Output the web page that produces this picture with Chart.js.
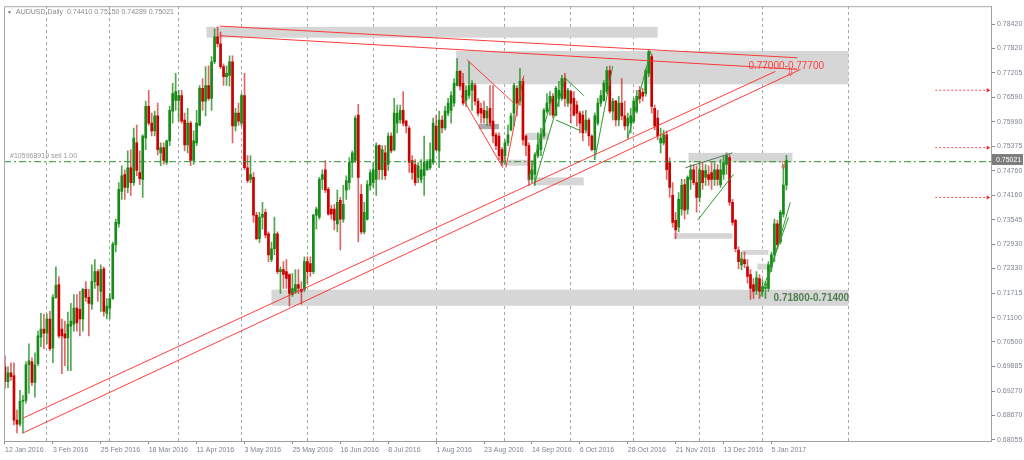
<!DOCTYPE html>
<html>
<head>
<meta charset="utf-8">
<title>AUDUSD, Daily</title>
<script src="https://cdn.jsdelivr.net/npm/chart.js@4.4.1/dist/chart.umd.min.js"></script>
<style>
    html, body { margin: 0; padding: 0; background: #fff; }
    #wrap { width: 1024px; height: 460px; }
</style>
</head>
<body>
<div id="wrap"><canvas id="chart" width="1024" height="460"></canvas></div>
<script>
// AUDUSD daily candles, 12 Jan 2016 → 12 Jan 2017
var opens = [
    0.6988,0.6951,0.6973,0.6966,0.6855,0.6845,0.6902,0.6904,0.6993,0.7000,
    0.6949,0.6996,0.7062,0.7082,0.7072,0.7107,0.7035,0.7161,0.7193,0.7082,
    0.7070,0.7060,0.7089,0.7094,0.7134,0.7131,0.7107,0.7181,0.7161,0.7144,
    0.7200,0.7225,0.7176,0.7232,0.7121,0.7134,0.7158,0.7292,0.7344,0.7425,
    0.7467,0.7435,0.7484,0.7447,0.7546,0.7472,0.7455,0.7558,0.7637,0.7595,
    0.7576,0.7613,0.7521,0.7534,0.7497,0.7551,0.7625,0.7652,0.7652,0.7664,
    0.7603,0.7541,0.7595,0.7502,0.7546,0.7590,0.7682,0.7650,0.7689,0.7657,
    0.7748,0.7810,0.7793,0.7736,0.7711,0.7714,0.7748,0.7588,0.7620,0.7595,
    0.7664,0.7484,0.7455,0.7460,0.7366,0.7307,0.7361,0.7373,0.7319,0.7255,
    0.7282,0.7319,0.7225,0.7230,0.7225,0.7218,0.7168,0.7176,0.7193,0.7181,
    0.7181,0.7250,0.7245,0.7225,0.7366,0.7361,0.7455,0.7479,0.7430,0.7381,
    0.7381,0.7344,0.7403,0.7356,0.7428,0.7447,0.7497,0.7502,0.7615,0.7418,
    0.7324,0.7356,0.7440,0.7447,0.7455,0.7539,0.7479,0.7521,0.7492,0.7563,
    0.7529,0.7595,0.7603,0.7627,0.7600,0.7583,0.7502,0.7492,0.7460,0.7455,
    0.7464,0.7479,0.7484,0.7497,0.7588,0.7526,0.7603,0.7583,0.7620,0.7627,
    0.7645,0.7689,0.7724,0.7694,0.7652,0.7664,0.7677,0.7689,0.7650,0.7632,
    0.7627,0.7608,0.7632,0.7600,0.7566,0.7563,0.7529,0.7514,0.7546,0.7578,
    0.7620,0.7682,0.7650,0.7699,0.7563,0.7539,0.7455,0.7467,0.7514,0.7529,
    0.7563,0.7625,0.7645,0.7662,0.7615,0.7657,0.7657,0.7706,0.7645,0.7674,
    0.7657,0.7640,0.7620,0.7615,0.7578,0.7603,0.7563,0.7529,0.7595,0.7645,
    0.7652,0.7674,0.7726,0.7625,0.7650,0.7603,0.7645,0.7613,0.7588,0.7595,
    0.7600,0.7625,0.7677,0.7672,0.7669,0.7719,0.7761,0.7632,0.7608,0.7546,
    0.7546,0.7566,0.7497,0.7415,0.7353,0.7336,0.7381,0.7442,0.7381,0.7455,
    0.7479,0.7447,0.7410,0.7477,0.7460,0.7467,0.7472,0.7455,0.7479,0.7442,
    0.7467,0.7492,0.7509,0.7398,0.7353,0.7279,0.7242,0.7255,0.7237,0.7218,
    0.7193,0.7178,0.7208,0.7176,0.7183,0.7183,0.7237,0.7267,0.7344,0.7299,
    0.7368,0.74410
];
var highs = [
    0.7015,0.6988,0.6998,0.6998,0.6880,0.6929,0.6917,0.7000,0.7045,0.7010,
    0.7023,0.7077,0.7121,0.7119,0.7119,0.7126,0.7168,0.7237,0.7213,0.7107,
    0.7102,0.7124,0.7146,0.7168,0.7168,0.7176,0.7183,0.7200,0.7181,0.7242,
    0.7255,0.7230,0.7242,0.7237,0.7158,0.7171,0.7299,0.7356,0.7447,0.7489,
    0.7479,0.7526,0.7529,0.7583,0.7590,0.7526,0.7566,0.7650,0.7677,0.7620,
    0.7625,0.7645,0.7546,0.7546,0.7553,0.7637,0.7694,0.7719,0.7677,0.7677,
    0.7620,0.7632,0.7600,0.7576,0.7627,0.7689,0.7706,0.7736,0.7738,0.7761,
    0.7830,0.7835,0.7822,0.7743,0.7738,0.7763,0.7763,0.7632,0.7645,0.7669,
    0.7719,0.7514,0.7514,0.7472,0.7373,0.7373,0.7398,0.7381,0.7324,0.7299,
    0.7361,0.7324,0.7237,0.7250,0.7255,0.7220,0.7220,0.7230,0.7230,0.7200,
    0.7262,0.7262,0.7262,0.7368,0.7386,0.7460,0.7479,0.7502,0.7435,0.7390,
    0.7393,0.7428,0.7410,0.7440,0.7464,0.7509,0.7526,0.7613,0.7642,0.7442,
    0.7398,0.7452,0.7479,0.7497,0.7546,0.7541,0.7539,0.7539,0.7571,0.7571,
    0.7657,0.7640,0.7640,0.7674,0.7603,0.7588,0.7514,0.7504,0.7497,0.7504,
    0.7563,0.7504,0.7546,0.7608,0.7613,0.7625,0.7613,0.7637,0.7657,0.7674,
    0.7706,0.7756,0.7726,0.7719,0.7689,0.7748,0.7701,0.7694,0.7657,0.7645,
    0.7650,0.7637,0.7689,0.7689,0.7571,0.7571,0.7534,0.7553,0.7590,0.7620,
    0.7694,0.7689,0.7731,0.7706,0.7566,0.7546,0.7502,0.7521,0.7571,0.7583,
    0.7632,0.7669,0.7674,0.7669,0.7687,0.7699,0.7714,0.7719,0.7682,0.7677,
    0.7674,0.7650,0.7625,0.7625,0.7627,0.7608,0.7566,0.7620,0.7657,0.7677,
    0.7701,0.7736,0.7738,0.7657,0.7652,0.7662,0.7706,0.7650,0.7620,0.7632,
    0.7657,0.7677,0.7687,0.7682,0.7731,0.7778,0.7768,0.7640,0.7627,0.7583,
    0.7578,0.7576,0.7509,0.7447,0.7373,0.7422,0.7455,0.7455,0.7464,0.7492,
    0.7492,0.7489,0.7497,0.7497,0.7492,0.7489,0.7497,0.7497,0.7492,0.7504,
    0.7514,0.7521,0.7516,0.7405,0.7356,0.7287,0.7274,0.7274,0.7255,0.7230,
    0.7208,0.7225,0.7218,0.7205,0.7200,0.7250,0.7274,0.7356,0.7353,0.7378,
    0.7492,0.75150
];
var lows = [
    0.6934,0.6936,0.6954,0.6843,0.6823,0.6840,0.6823,0.6897,0.6922,0.6941,
    0.6912,0.6991,0.7038,0.7033,0.7045,0.7028,0.6998,0.7158,0.7060,0.6971,
    0.6991,0.6978,0.6978,0.7077,0.7077,0.7065,0.7077,0.7151,0.7065,0.7131,
    0.7183,0.7151,0.7126,0.7114,0.7107,0.7107,0.7156,0.7274,0.7336,0.7405,
    0.7405,0.7422,0.7415,0.7440,0.7464,0.7442,0.7410,0.7529,0.7590,0.7563,
    0.7563,0.7516,0.7489,0.7492,0.7492,0.7539,0.7595,0.7627,0.7600,0.7595,
    0.7526,0.7521,0.7489,0.7492,0.7539,0.7588,0.7627,0.7613,0.7652,0.7627,
    0.7743,0.7785,0.7731,0.7689,0.7689,0.7687,0.7546,0.7576,0.7590,0.7588,
    0.7479,0.7447,0.7447,0.7348,0.7304,0.7297,0.7331,0.7309,0.7250,0.7250,
    0.7267,0.7220,0.7171,0.7183,0.7183,0.7139,0.7163,0.7171,0.7171,0.7144,
    0.7176,0.7196,0.7213,0.7220,0.7331,0.7356,0.7430,0.7422,0.7366,0.7356,
    0.7329,0.7324,0.7279,0.7348,0.7405,0.7430,0.7460,0.7497,0.7299,0.7319,
    0.7319,0.7353,0.7428,0.7435,0.7415,0.7455,0.7455,0.7455,0.7477,0.7521,
    0.7526,0.7571,0.7595,0.7588,0.7571,0.7472,0.7455,0.7440,0.7447,0.7447,
    0.7415,0.7477,0.7479,0.7492,0.7526,0.7484,0.7571,0.7578,0.7613,0.7595,
    0.7637,0.7687,0.7677,0.7640,0.7637,0.7657,0.7627,0.7640,0.7613,0.7595,
    0.7595,0.7590,0.7588,0.7546,0.7529,0.7504,0.7489,0.7492,0.7539,0.7576,
    0.7588,0.7613,0.7640,0.7541,0.7514,0.7440,0.7447,0.7440,0.7509,0.7514,
    0.7558,0.7620,0.7615,0.7608,0.7613,0.7637,0.7652,0.7637,0.7637,0.7595,
    0.7613,0.7588,0.7571,0.7551,0.7571,0.7539,0.7526,0.7504,0.7590,0.7637,
    0.7650,0.7669,0.7620,0.7603,0.7588,0.7588,0.7603,0.7578,0.7558,0.7571,
    0.7595,0.7620,0.7645,0.7650,0.7662,0.7711,0.7620,0.7578,0.7553,0.7521,
    0.7541,0.7455,0.7410,0.7336,0.7307,0.7324,0.7366,0.7356,0.7368,0.7430,
    0.7442,0.7373,0.7398,0.7430,0.7440,0.7440,0.7430,0.7440,0.7440,0.7435,
    0.7455,0.7467,0.7390,0.7341,0.7274,0.7232,0.7230,0.7235,0.7196,0.7156,
    0.7158,0.7168,0.7158,0.7163,0.7158,0.7176,0.7225,0.7250,0.7282,0.7294,
    0.7361,0.74289
];
var closes = [
    0.6951,0.6973,0.6963,0.6855,0.6845,0.6902,0.6904,0.6993,0.7003,0.6949,
    0.6993,0.7065,0.7082,0.7072,0.7107,0.7033,0.7161,0.7191,0.7065,0.7065,
    0.7060,0.7094,0.7102,0.7134,0.7097,0.7107,0.7181,0.7161,0.7146,0.7200,
    0.7225,0.7191,0.7230,0.7126,0.7139,0.7158,0.7294,0.7348,0.7430,0.7464,
    0.7435,0.7484,0.7447,0.7558,0.7477,0.7457,0.7563,0.7637,0.7595,0.7576,
    0.7613,0.7529,0.7534,0.7502,0.7551,0.7627,0.7669,0.7674,0.7664,0.7600,
    0.7541,0.7595,0.7502,0.7551,0.7595,0.7682,0.7650,0.7689,0.7657,0.7748,
    0.7810,0.7793,0.7736,0.7711,0.7719,0.7748,0.7588,0.7620,0.7600,0.7664,
    0.7484,0.7452,0.7467,0.7366,0.7307,0.7361,0.7368,0.7316,0.7267,0.7282,
    0.7319,0.7225,0.7230,0.7218,0.7208,0.7171,0.7183,0.7193,0.7183,0.7176,
    0.7250,0.7225,0.7225,0.7366,0.7381,0.7455,0.7467,0.7428,0.7368,0.7368,
    0.7353,0.7398,0.7356,0.7393,0.7452,0.7497,0.7521,0.7608,0.7460,0.7324,
    0.7373,0.7442,0.7472,0.7479,0.7539,0.7479,0.7529,0.7464,0.7563,0.7526,
    0.7620,0.7620,0.7627,0.7595,0.7588,0.7497,0.7472,0.7447,0.7489,0.7479,
    0.7497,0.7497,0.7504,0.7595,0.7529,0.7603,0.7583,0.7625,0.7645,0.7664,
    0.7694,0.7724,0.7687,0.7645,0.7677,0.7689,0.7694,0.7650,0.7620,0.7620,
    0.7608,0.7625,0.7595,0.7563,0.7539,0.7514,0.7497,0.7546,0.7566,0.7613,
    0.7689,0.7645,0.7699,0.7553,0.7539,0.7455,0.7479,0.7516,0.7541,0.7566,
    0.7627,0.7645,0.7662,0.7615,0.7682,0.7677,0.7706,0.7657,0.7677,0.7645,
    0.7615,0.7620,0.7595,0.7571,0.7603,0.7563,0.7529,0.7613,0.7645,0.7664,
    0.7694,0.7726,0.7625,0.7650,0.7603,0.7645,0.7613,0.7588,0.7608,0.7613,
    0.7650,0.7662,0.7657,0.7662,0.7726,0.7773,0.7637,0.7588,0.7563,0.7558,
    0.7566,0.7479,0.7435,0.7348,0.7329,0.7405,0.7440,0.7378,0.7460,0.7479,
    0.7447,0.7410,0.7479,0.7447,0.7477,0.7455,0.7455,0.7479,0.7455,0.7479,
    0.7497,0.7514,0.7398,0.7348,0.7282,0.7250,0.7257,0.7245,0.7213,0.7183,
    0.7176,0.7210,0.7176,0.7188,0.7186,0.7242,0.7267,0.7344,0.7292,0.7373,
    0.7441,0.75021
];

// Axis labels (x in bar numbers, bar 0 = 12 Jan 2016)
var dateTickBars = [0, 16, 32, 48, 64, 80, 96, 112, 128, 144, 160, 176, 192, 208, 224, 240, 256];
var dateLabels = ['12 Jan 2016', '3 Feb 2016', '25 Feb 2016', '18 Mar 2016', '11 Apr 2016', '3 May 2016',
    '25 May 2016', '16 Jun 2016', '8 Jul 2016', '1 Aug 2016', '23 Aug 2016', '14 Sep 2016',
    '6 Oct 2016', '28 Oct 2016', '21 Nov 2016', '13 Dec 2016', '5 Jan 2017'];
var monthStartBars = [14, 35, 58, 79, 101, 123, 144, 167, 189, 210, 232, 253, 281.7];
var priceTicks = [0.68055, 0.68670, 0.69270, 0.69885, 0.70500, 0.71100, 0.71715, 0.72330, 0.72930,
    0.73545, 0.74160, 0.74760, 0.75375, 0.75990, 0.76590, 0.77205, 0.77820, 0.78420];

// Analysis objects: zones [fromBar, toBar, low, high], lines [bar1, price1, bar2, price2]
var zones = [
    [67.3, 218, 0.7808, 0.7835], [150.7, 281.7, 0.7692, 0.7775], [89, 281.7, 0.7140, 0.7180],
    [228.3, 263, 0.7497, 0.7521], [165.7, 174.7, 0.7489, 0.7504], [174, 181.7, 0.7553, 0.7571],
    [176.7, 193.3, 0.7440, 0.7460], [223.3, 243, 0.7307, 0.7321], [246.3, 255, 0.7267, 0.7279],
    [251.3, 255, 0.7230, 0.7245]
];
var markZones = [[158.3, 165, 0.7580, 0.7593]];
var redLines = [
    [71.7, 0.7837, 264.7, 0.7758], [71.7, 0.7813, 264.7, 0.7729],
    [6, 0.6860, 257.3, 0.7724], [6, 0.6823, 265.7, 0.7729],
    [154.3, 0.7753, 170, 0.7645], [152.3, 0.7664, 166.3, 0.7484], [167.3, 0.7484, 173.3, 0.7714]
];
var greenLines = [
    [176.7, 0.7440, 187.3, 0.7711], [174.7, 0.7452, 183, 0.7664], [184, 0.7603, 192.3, 0.7576],
    [187.3, 0.7706, 193.3, 0.7664], [197.3, 0.7516, 203, 0.7738],
    [208, 0.7556, 215.7, 0.7775], [231.3, 0.7353, 243.3, 0.7467],
    [254, 0.7183, 262.3, 0.7398], [252.3, 0.7163, 261.7, 0.7361]
];
var patternLines = [[227.3, 0.7484, 243, 0.7521]];
var orderLevels = [0.7677, 0.7534, 0.7410];
var sellLevel = 0.7499;
var zoneLabels = [['0.77000-0.77700', 248.3, 0.7738], ['0.71800-0.71400', 256.7, 0.7158]];
var arrowMarks = [[262.3, 0.7719], [260, 0.7489]];

(function () {
    'use strict';

    var FONT = 'Liberation Sans';
    var AXIS_COLOR = '#7f8596';
    var BULL = '#178a17', BEAR = '#cc0000';
    var X_MIN = -1 / 3, X_MAX = 329.33;

    function isUp(i) { return closes[i] >= opens[i]; }

    // ── Candles: wick + body as floating bars ─────────────────
    var wicks = opens.map(function (o, i) { return { x: i, y: [lows[i], highs[i]] }; });
    var bodies = opens.map(function (o, i) { return { x: i, y: [o, closes[i]] }; });

    function segment(s, color, dash) {
        return {
            type: 'line',
            data: [{ x: s[0], y: s[1] }, { x: s[2], y: s[3] }],
            borderColor: color,
            borderWidth: 1,
            borderDash: dash || [],
            pointRadius: 0,
            tension: 0,
            fill: false,
            order: 1
        };
    }

    var datasets = [
        {
            type: 'bar', data: wicks, barThickness: 1, grouped: false, order: 4,
            backgroundColor: function (c) { return isUp(c.dataIndex) ? 'rgba(23,138,23,0.75)' : 'rgba(204,0,0,0.6)'; }
        },
        {
            type: 'bar', data: bodies, barThickness: 2, grouped: false, minBarLength: 1, order: 3,
            backgroundColor: function (c) { return isUp(c.dataIndex) ? BULL : BEAR; }
        }
    ];
    redLines.forEach(function (s) { datasets.push(segment(s, 'rgba(255,40,40,0.9)')); });
    greenLines.forEach(function (s) { datasets.push(segment(s, '#2e9a2e')); });
    patternLines.forEach(function (s) { datasets.push(segment(s, '#5f735f')); });
    datasets.push(segment([X_MIN, sellLevel, X_MAX, sellLevel], '#2f8f2f', [7, 3, 2, 3]));
    orderLevels.forEach(function (p) {
        var d = segment([310.7, p, 328.3, p], '#ff5050', [2, 2]);
        d.pointRadius = [0, 2.5];
        d.pointStyle = 'triangle';
        d.pointRotation = 90;
        d.pointBackgroundColor = '#ff3030';
        d.pointBorderWidth = 0;
        datasets.push(d);
    });

    // ── Zones, labels, title, price box ───────────────────────
    var overlay = {
        id: 'overlay',
        beforeDatasetsDraw: function (chart) {
            var ctx = chart.ctx, xs = chart.scales.x, ys = chart.scales.y;
            function box(z) {
                var x1 = xs.getPixelForValue(z[0]), x2 = xs.getPixelForValue(z[1]);
                var y1 = ys.getPixelForValue(z[3]), y2 = ys.getPixelForValue(z[2]);
                ctx.fillRect(x1, y1, x2 - x1, y2 - y1);
            }
            ctx.save();
            ctx.fillStyle = '#d6d6d6';
            zones.forEach(box);
            ctx.fillStyle = '#a9a9a9';
            markZones.forEach(box);
            ctx.restore();
        },
        afterDatasetsDraw: function (chart) {
            var ctx = chart.ctx, xs = chart.scales.x, ys = chart.scales.y;
            ctx.save();
            ctx.textBaseline = 'middle';
            ctx.textAlign = 'left';
            ctx.font = '10px "' + FONT + '"';
            ctx.fillStyle = '#ff4040';
            ctx.fillText(zoneLabels[0][0], xs.getPixelForValue(zoneLabels[0][1]), ys.getPixelForValue(zoneLabels[0][2]));
            ctx.font = 'bold 10px "' + FONT + '"';
            ctx.fillStyle = '#4f7f4f';
            ctx.fillText(zoneLabels[1][0], xs.getPixelForValue(zoneLabels[1][1]), ys.getPixelForValue(zoneLabels[1][2]));

            ctx.font = '11px "DejaVu Sans"';
            ctx.fillStyle = '#ff4040';
            ctx.textAlign = 'center';
            arrowMarks.forEach(function (a) {
                ctx.fillText('\u21E9', xs.getPixelForValue(a[0]), ys.getPixelForValue(a[1]));
            });

            ctx.font = '7px "' + FONT + '"';
            ctx.fillStyle = '#9a9a9a';
            ctx.textAlign = 'left';
            ctx.textBaseline = 'bottom';
            ctx.fillText('#105968919 sell 1.00', xs.getPixelForValue(1.7), ys.getPixelForValue(sellLevel) - 2);
            ctx.restore();
        },
        afterDraw: function (chart) {
            var ctx = chart.ctx, a = chart.chartArea, ys = chart.scales.y;
            var last = closes.length - 1;
            ctx.save();
            // frame (left + top; right and bottom are the axis borders)
            ctx.strokeStyle = '#a8a8a8';
            ctx.lineWidth = 1;
            ctx.beginPath();
            ctx.moveTo(a.left + 0.5, a.bottom);
            ctx.lineTo(a.left + 0.5, a.top + 0.5);
            ctx.lineTo(a.right, a.top + 0.5);
            ctx.stroke();

            // title
            ctx.textBaseline = 'middle';
            ctx.textAlign = 'left';
            ctx.fillStyle = '#6e6e6e';
            ctx.font = '5px "' + FONT + '"';
            ctx.fillText('\u25BC', a.left + 3, a.top + 6);
            ctx.fillStyle = '#8a8a8a';
            ctx.font = '7px "' + FONT + '"';
            ctx.fillText('AUDUSD,Daily  ' + opens[last].toFixed(5) + ' ' + highs[last].toFixed(5) + ' ' +
                lows[last].toFixed(5) + ' ' + closes[last].toFixed(5), a.left + 12, a.top + 6);

            // current price box on the axis
            var py = Math.round(ys.getPixelForValue(closes[last]));
            ctx.fillStyle = '#7d7d7d';
            ctx.fillRect(a.right + 1, py - 6, 31, 11);
            ctx.fillStyle = '#ffffff';
            ctx.fillText(closes[last].toFixed(5), a.right + 5, py);
            ctx.restore();
        }
    };

    // ── Chart ────────────────────────────────────────────────
    new Chart(document.getElementById('chart'), {
        type: 'bar',
        data: { datasets: datasets },
        options: {
            responsive: false,
            animation: false,
            devicePixelRatio: 1,
            events: [],
            layout: { padding: { left: 2, top: 2, right: 0, bottom: 0 } },
            plugins: { legend: { display: false }, tooltip: { enabled: false } },
            scales: {
                x: {
                    type: 'linear', position: 'bottom', min: X_MIN, max: X_MAX, offset: false,
                    afterFit: function (s) { s.height = 19; },
                    afterBuildTicks: function (s) { s.ticks = dateTickBars.map(function (v) { return { value: v }; }); },
                    ticks: {
                        autoSkip: false, maxRotation: 0, align: 'start', padding: 2,
                        color: AXIS_COLOR, font: { family: FONT, size: 7 },
                        callback: function (v) { var k = dateTickBars.indexOf(v); return k < 0 ? '' : dateLabels[k]; }
                    },
                    grid: { drawOnChartArea: false, drawTicks: true, tickLength: 3, offset: false, color: '#8c8c8c' },
                    border: { display: true, color: '#a0a0a0' }
                },
                x2: {
                    type: 'linear', position: 'top', min: X_MIN, max: X_MAX, offset: false,
                    afterFit: function (s) { s.height = 0; },
                    afterBuildTicks: function (s) { s.ticks = monthStartBars.map(function (v) { return { value: v }; }); },
                    ticks: { display: false },
                    grid: { drawOnChartArea: true, drawTicks: false, offset: false, color: '#a6a6a6' },
                    border: { display: false, dash: [3, 3] }
                },
                y: {
                    type: 'linear', position: 'right', min: 0.6803, max: 0.78865, beginAtZero: false,
                    afterFit: function (s) { s.width = 33; },
                    afterBuildTicks: function (s) { s.ticks = priceTicks.map(function (v) { return { value: v }; }); },
                    ticks: {
                        padding: 2, color: AXIS_COLOR, font: { family: FONT, size: 7 },
                        callback: function (v) { return Number(v).toFixed(5); }
                    },
                    grid: { drawOnChartArea: false, drawTicks: true, tickLength: 4, color: '#8c8c8c' },
                    border: { display: true, color: '#a0a0a0' }
                }
            }
        },
        plugins: [overlay]
    });
}());
</script>
</body>
</html>
